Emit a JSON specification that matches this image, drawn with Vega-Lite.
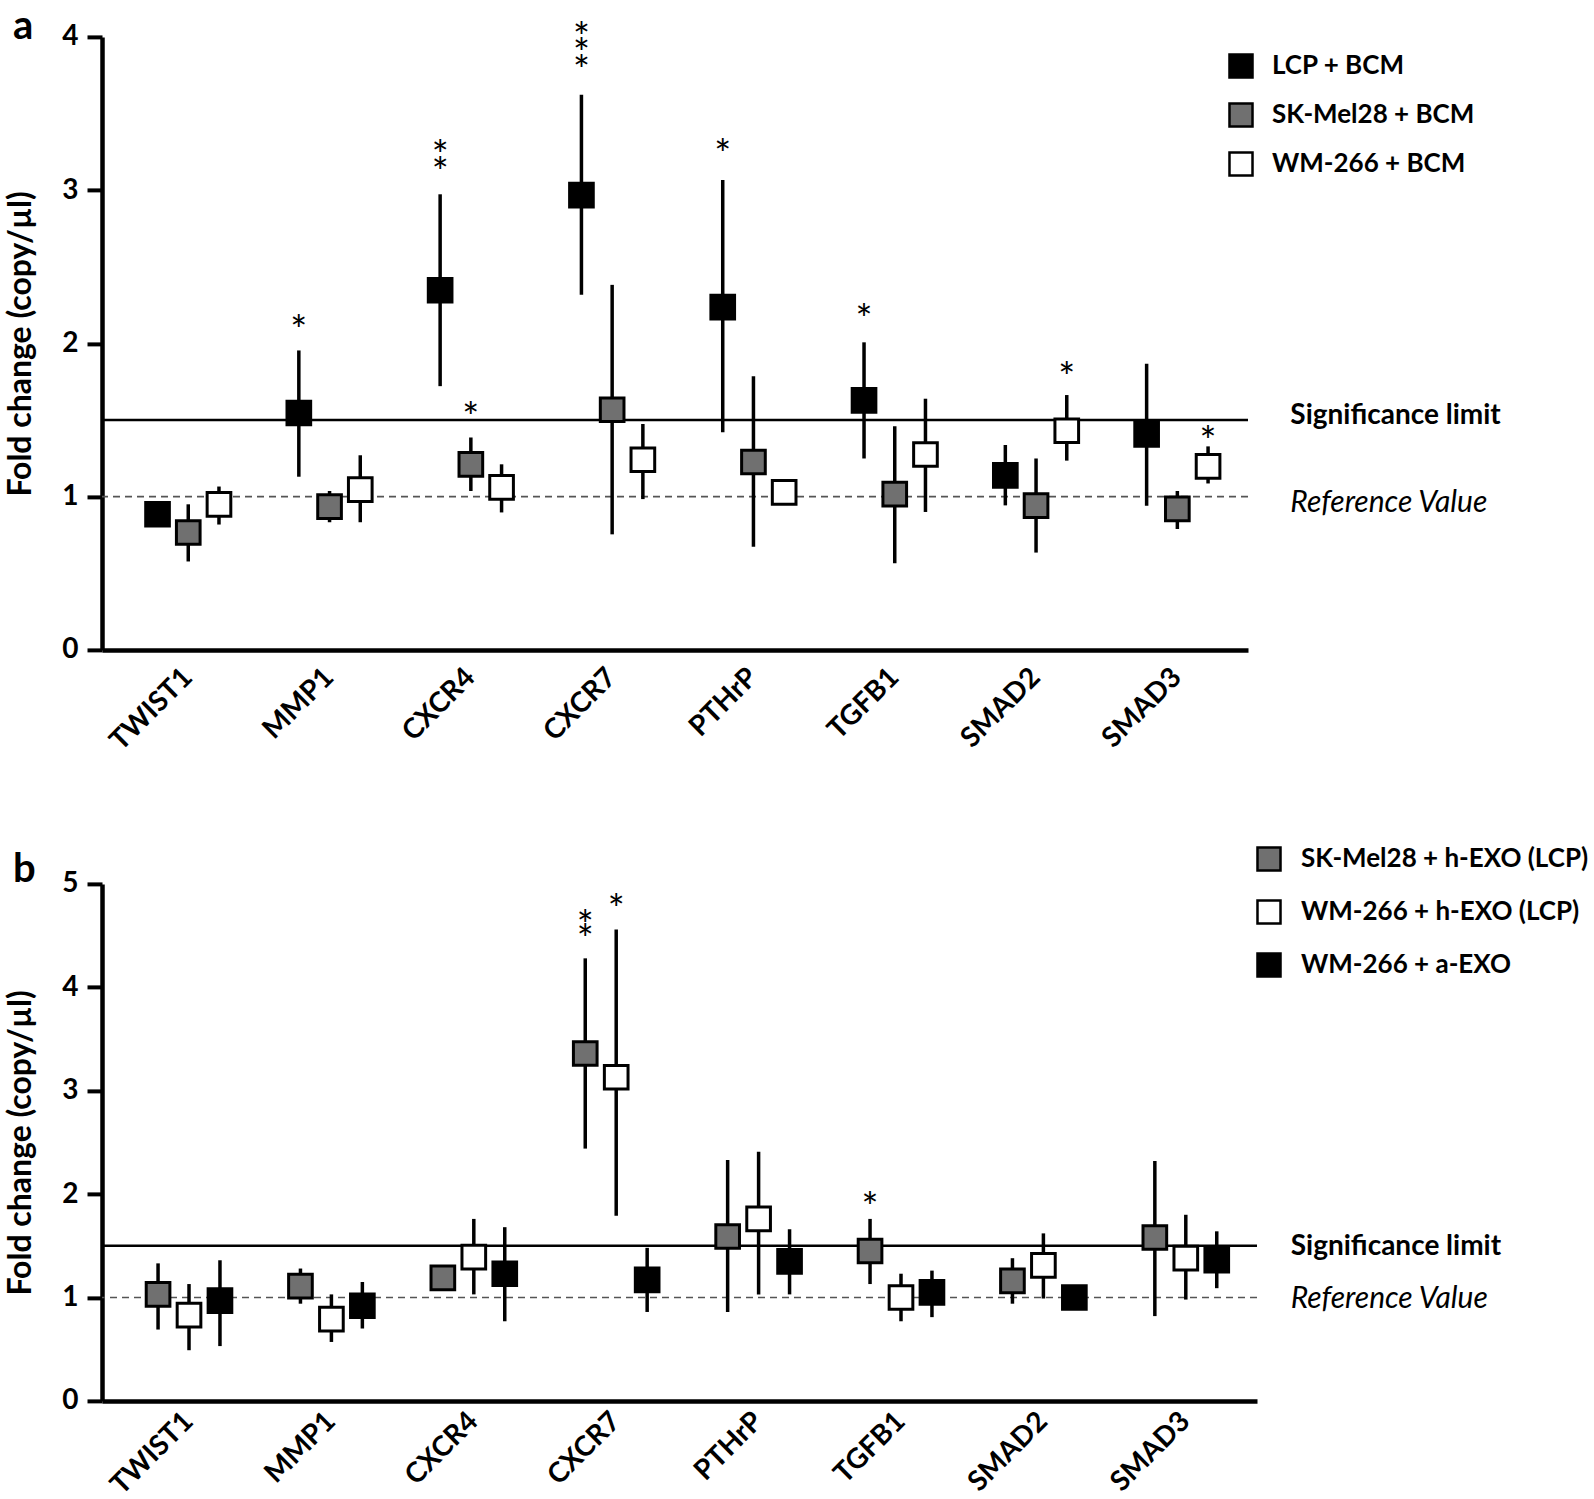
{
  "$schema": "https://vega.github.io/schema/vega-lite/v6.json",
  "background": "white",
  "padding": {"left": 4, "top": 6.9, "right": 5, "bottom": 0},
  "bounds": "flush",
  "spacing": 234,
  "config": {
    "font": "Lato",
    "view": {"stroke": null},
    "axis": {
      "domainColor": "black", "domainWidth": 4.5, "tickColor": "black", "tickWidth": 4,
      "labelColor": "black", "titleColor": "black", "grid": false,
      "labelFont": "Lato", "labelFontWeight": "bold", "labelFontSize": 28,
      "titleFont": "Lato", "titleFontSize": 32, "titleFontWeight": "bold"
    },
    "legend": {
      "title": null, "symbolType": "square", "symbolSize": 530, "symbolStrokeColor": "black",
      "symbolStrokeWidth": 2.5, "symbolOpacity": 1, "labelFontSize": 26, "labelFontWeight": "bold",
      "labelFont": "Lato", "labelColor": "black", "labelOffset": 18, "padding": 0, "labelLimit": 0
    },
    "title": {"font": "Lato", "fontSize": 40, "fontWeight": "bold", "color": "black"}
  },
  "datasets": {
    "a": [
      {"gene": "TWIST1", "g": "LCP + BCM", "v": 0.885, "lo": 0.885, "hi": 0.885},
      {"gene": "TWIST1", "g": "SK-Mel28 + BCM", "v": 0.766, "lo": 0.577, "hi": 0.95},
      {"gene": "TWIST1", "g": "WM-266 + BCM", "v": 0.95, "lo": 0.818, "hi": 1.066},
      {"gene": "MMP1", "g": "LCP + BCM", "v": 1.546, "lo": 1.13, "hi": 1.954},
      {"gene": "MMP1", "g": "SK-Mel28 + BCM", "v": 0.935, "lo": 0.833, "hi": 1.037},
      {"gene": "MMP1", "g": "WM-266 + BCM", "v": 1.046, "lo": 0.833, "hi": 1.27},
      {"gene": "CXCR4", "g": "LCP + BCM", "v": 2.347, "lo": 1.721, "hi": 2.973},
      {"gene": "CXCR4", "g": "SK-Mel28 + BCM", "v": 1.211, "lo": 1.037, "hi": 1.386},
      {"gene": "CXCR4", "g": "WM-266 + BCM", "v": 1.06, "lo": 0.897, "hi": 1.211},
      {"gene": "CXCR7", "g": "LCP + BCM", "v": 2.967, "lo": 2.318, "hi": 3.623},
      {"gene": "CXCR7", "g": "SK-Mel28 + BCM", "v": 1.567, "lo": 0.754, "hi": 2.382},
      {"gene": "CXCR7", "g": "WM-266 + BCM", "v": 1.241, "lo": 0.984, "hi": 1.474},
      {"gene": "PTHrP", "g": "LCP + BCM", "v": 2.237, "lo": 1.421, "hi": 3.066},
      {"gene": "PTHrP", "g": "SK-Mel28 + BCM", "v": 1.226, "lo": 0.673, "hi": 1.785},
      {"gene": "PTHrP", "g": "WM-266 + BCM", "v": 1.028, "lo": 1.028, "hi": 1.028},
      {"gene": "TGFB1", "g": "LCP + BCM", "v": 1.628, "lo": 1.249, "hi": 2.007},
      {"gene": "TGFB1", "g": "SK-Mel28 + BCM", "v": 1.016, "lo": 0.565, "hi": 1.459},
      {"gene": "TGFB1", "g": "WM-266 + BCM", "v": 1.275, "lo": 0.9, "hi": 1.639},
      {"gene": "SMAD2", "g": "LCP + BCM", "v": 1.139, "lo": 0.943, "hi": 1.337},
      {"gene": "SMAD2", "g": "SK-Mel28 + BCM", "v": 0.941, "lo": 0.635, "hi": 1.249},
      {"gene": "SMAD2", "g": "WM-266 + BCM", "v": 1.43, "lo": 1.235, "hi": 1.663},
      {"gene": "SMAD3", "g": "LCP + BCM", "v": 1.406, "lo": 0.941, "hi": 1.867},
      {"gene": "SMAD3", "g": "SK-Mel28 + BCM", "v": 0.92, "lo": 0.789, "hi": 1.037},
      {"gene": "SMAD3", "g": "WM-266 + BCM", "v": 1.197, "lo": 1.086, "hi": 1.328}
    ],
    "astar": [
      {"gene": "MMP1", "g": "LCP + BCM", "y": 2.138},
      {"gene": "CXCR4", "g": "LCP + BCM", "y": 3.279},
      {"gene": "CXCR4", "g": "LCP + BCM", "y": 3.168},
      {"gene": "CXCR4", "g": "SK-Mel28 + BCM", "y": 1.575},
      {"gene": "CXCR7", "g": "LCP + BCM", "y": 4.05},
      {"gene": "CXCR7", "g": "LCP + BCM", "y": 3.949},
      {"gene": "CXCR7", "g": "LCP + BCM", "y": 3.838},
      {"gene": "PTHrP", "g": "LCP + BCM", "y": 3.288},
      {"gene": "TGFB1", "g": "LCP + BCM", "y": 2.21},
      {"gene": "SMAD2", "g": "WM-266 + BCM", "y": 1.832},
      {"gene": "SMAD3", "g": "WM-266 + BCM", "y": 1.415}
    ],
    "b": [
      {"gene": "TWIST1", "g": "SK-Mel28 + h-EXO (LCP)", "v": 1.03, "lo": 0.69, "hi": 1.33},
      {"gene": "TWIST1", "g": "WM-266 + h-EXO (LCP)", "v": 0.83, "lo": 0.49, "hi": 1.13},
      {"gene": "TWIST1", "g": "WM-266 + a-EXO", "v": 0.97, "lo": 0.53, "hi": 1.36},
      {"gene": "MMP1", "g": "SK-Mel28 + h-EXO (LCP)", "v": 1.11, "lo": 0.94, "hi": 1.28},
      {"gene": "MMP1", "g": "WM-266 + h-EXO (LCP)", "v": 0.79, "lo": 0.57, "hi": 1.03},
      {"gene": "MMP1", "g": "WM-266 + a-EXO", "v": 0.92, "lo": 0.7, "hi": 1.15},
      {"gene": "CXCR4", "g": "SK-Mel28 + h-EXO (LCP)", "v": 1.19, "lo": 1.19, "hi": 1.19},
      {"gene": "CXCR4", "g": "WM-266 + h-EXO (LCP)", "v": 1.39, "lo": 1.03, "hi": 1.76},
      {"gene": "CXCR4", "g": "WM-266 + a-EXO", "v": 1.23, "lo": 0.77, "hi": 1.68},
      {"gene": "CXCR7", "g": "SK-Mel28 + h-EXO (LCP)", "v": 3.36, "lo": 2.44, "hi": 4.28},
      {"gene": "CXCR7", "g": "WM-266 + h-EXO (LCP)", "v": 3.13, "lo": 1.79, "hi": 4.56},
      {"gene": "CXCR7", "g": "WM-266 + a-EXO", "v": 1.17, "lo": 0.86, "hi": 1.48},
      {"gene": "PTHrP", "g": "SK-Mel28 + h-EXO (LCP)", "v": 1.59, "lo": 0.86, "hi": 2.33},
      {"gene": "PTHrP", "g": "WM-266 + h-EXO (LCP)", "v": 1.76, "lo": 1.03, "hi": 2.41},
      {"gene": "PTHrP", "g": "WM-266 + a-EXO", "v": 1.35, "lo": 1.03, "hi": 1.66},
      {"gene": "TGFB1", "g": "SK-Mel28 + h-EXO (LCP)", "v": 1.45, "lo": 1.13, "hi": 1.76},
      {"gene": "TGFB1", "g": "WM-266 + h-EXO (LCP)", "v": 1.0, "lo": 0.77, "hi": 1.23},
      {"gene": "TGFB1", "g": "WM-266 + a-EXO", "v": 1.05, "lo": 0.81, "hi": 1.26},
      {"gene": "SMAD2", "g": "SK-Mel28 + h-EXO (LCP)", "v": 1.16, "lo": 0.94, "hi": 1.38},
      {"gene": "SMAD2", "g": "WM-266 + h-EXO (LCP)", "v": 1.31, "lo": 0.99, "hi": 1.62},
      {"gene": "SMAD2", "g": "WM-266 + a-EXO", "v": 1.0, "lo": 1.0, "hi": 1.0},
      {"gene": "SMAD3", "g": "SK-Mel28 + h-EXO (LCP)", "v": 1.58, "lo": 0.82, "hi": 2.32},
      {"gene": "SMAD3", "g": "WM-266 + h-EXO (LCP)", "v": 1.38, "lo": 0.98, "hi": 1.8},
      {"gene": "SMAD3", "g": "WM-266 + a-EXO", "v": 1.36, "lo": 1.09, "hi": 1.64}
    ],
    "bstar": [
      {"gene": "CXCR7", "g": "SK-Mel28 + h-EXO (LCP)", "y": 4.68},
      {"gene": "CXCR7", "g": "SK-Mel28 + h-EXO (LCP)", "y": 4.54},
      {"gene": "CXCR7", "g": "WM-266 + h-EXO (LCP)", "y": 4.83},
      {"gene": "TGFB1", "g": "SK-Mel28 + h-EXO (LCP)", "y": 1.95}
    ]
  },
  "vconcat": [
    {
      "title": {"text": "a", "anchor": "start", "frame": "group", "offset": -27.2, "dx": -89},
      "width": 1146,
      "height": 613,
      "layer": [
        {
          "data": {"values": [{}]},
          "mark": {"type": "rule", "color": "black", "strokeWidth": 2.5},
          "encoding": {"y": {"datum": 1.5, "type": "quantitative", "scale": {"domain": [0, 4], "nice": false}}}
        },
        {
          "data": {"values": [{}]},
          "mark": {"type": "rule", "color": "#555555", "strokeWidth": 1.6, "strokeDash": [7, 5]},
          "encoding": {"y": {"datum": 1, "type": "quantitative"}}
        },
        {
          "data": {"name": "a"},
          "mark": {"type": "rule", "color": "black", "strokeWidth": 3.5},
          "encoding": {
            "x": {"field": "gene", "type": "nominal", "scale": {"domain": ["TWIST1", "MMP1", "CXCR4", "CXCR7", "PTHrP", "TGFB1", "SMAD2", "SMAD3"], "paddingInner": 0, "paddingOuter": 0.0552, "align": 1},
              "axis": {"title": null, "labelAngle": -45, "labelAlign": "right", "labelBaseline": "middle", "ticks": false, "labelPadding": 23, "labelOverlap": false}},
            "xOffset": {"field": "g", "type": "nominal", "scale": {"domain": ["LCP + BCM", "SK-Mel28 + BCM", "WM-266 + BCM"], "paddingInner": 0, "paddingOuter": 0.8}},
            "y": {"field": "lo", "type": "quantitative", "scale": {"domain": [0, 4], "nice": false},
              "axis": {"values": [0, 1, 2, 3, 4], "title": "Fold change (copy/µl)", "tickSize": 15, "labelPadding": 9, "titlePadding": 24, "format": "d"}},
            "y2": {"field": "hi"}
          }
        },
        {
          "data": {"name": "a"},
          "mark": {"type": "point", "shape": "square", "filled": true, "size": 560, "stroke": "black", "strokeWidth": 3, "opacity": 1, "fillOpacity": 1},
          "encoding": {
            "x": {"field": "gene", "type": "nominal"},
            "xOffset": {"field": "g", "type": "nominal"},
            "y": {"field": "v", "type": "quantitative"},
            "fill": {"field": "g", "type": "nominal",
              "scale": {"domain": ["LCP + BCM", "SK-Mel28 + BCM", "WM-266 + BCM"], "range": ["black", "#707070", "white"]},
              "legend": {"orient": "none", "legendX": 1126, "legendY": 16, "rowPadding": 15}}
          }
        },
        {
          "data": {"name": "astar"},
          "mark": {"type": "text", "fontSize": 40, "fontWeight": "normal", "baseline": "alphabetic", "dy": 23, "color": "black"},
          "encoding": {
            "x": {"field": "gene", "type": "nominal"},
            "xOffset": {"field": "g", "type": "nominal"},
            "y": {"field": "y", "type": "quantitative"},
            "text": {"value": "*"}
          }
        },
        {
          "data": {"values": [{"t": "Significance limit"}]},
          "mark": {"type": "text", "fontSize": 28, "fontWeight": "bold", "align": "left", "baseline": "middle", "dx": 113, "dy": -4, "color": "black"},
          "encoding": {"x": {"datum": "SMAD3", "type": "nominal"}, "y": {"datum": 1.5, "type": "quantitative"}, "text": {"field": "t"}}
        },
        {
          "data": {"values": [{"t": "Reference Value"}]},
          "mark": {"type": "text", "fontSize": 30, "fontStyle": "italic", "align": "left", "baseline": "middle", "dx": 113, "dy": 6, "color": "black"},
          "encoding": {"x": {"datum": "SMAD3", "type": "nominal"}, "y": {"datum": 1, "type": "quantitative"}, "text": {"field": "t"}}
        }
      ]
    },
    {
      "title": {"text": "b", "anchor": "start", "frame": "group", "offset": -44.2, "dx": -89},
      "width": 1155,
      "height": 517,
      "layer": [
        {
          "data": {"values": [{}]},
          "mark": {"type": "rule", "color": "black", "strokeWidth": 2.5},
          "encoding": {"y": {"datum": 1.5, "type": "quantitative", "scale": {"domain": [0, 5], "nice": false}}}
        },
        {
          "data": {"values": [{}]},
          "mark": {"type": "rule", "color": "#555555", "strokeWidth": 1.6, "strokeDash": [7, 5]},
          "encoding": {"y": {"datum": 1, "type": "quantitative"}}
        },
        {
          "data": {"name": "b"},
          "mark": {"type": "rule", "color": "black", "strokeWidth": 3.5},
          "encoding": {
            "x": {"field": "gene", "type": "nominal", "scale": {"domain": ["TWIST1", "MMP1", "CXCR4", "CXCR7", "PTHrP", "TGFB1", "SMAD2", "SMAD3"], "paddingInner": 0, "paddingOuter": 0.0555, "align": 1},
              "axis": {"title": null, "labelAngle": -45, "labelAlign": "right", "labelBaseline": "middle", "ticks": false, "labelPadding": 16, "labelOverlap": false}},
            "xOffset": {"field": "g", "type": "nominal", "scale": {"domain": ["SK-Mel28 + h-EXO (LCP)", "WM-266 + h-EXO (LCP)", "WM-266 + a-EXO"], "paddingInner": 0, "paddingOuter": 0.8}},
            "y": {"field": "lo", "type": "quantitative", "scale": {"domain": [0, 5], "nice": false},
              "axis": {"values": [0, 1, 2, 3, 4, 5], "title": "Fold change (copy/µl)", "tickSize": 15, "labelPadding": 9, "titlePadding": 24, "format": "d"}},
            "y2": {"field": "hi"}
          }
        },
        {
          "data": {"name": "b"},
          "mark": {"type": "point", "shape": "square", "filled": true, "size": 560, "stroke": "black", "strokeWidth": 3, "opacity": 1, "fillOpacity": 1},
          "encoding": {
            "x": {"field": "gene", "type": "nominal"},
            "xOffset": {"field": "g", "type": "nominal"},
            "y": {"field": "v", "type": "quantitative"},
            "fill": {"field": "g", "type": "nominal",
              "scale": {"domain": ["SK-Mel28 + h-EXO (LCP)", "WM-266 + h-EXO (LCP)", "WM-266 + a-EXO"], "range": ["#707070", "white", "black"]},
              "legend": {"orient": "none", "legendX": 1154, "legendY": -38, "rowPadding": 19, "labelOffset": 19}}
          }
        },
        {
          "data": {"name": "bstar"},
          "mark": {"type": "text", "fontSize": 40, "fontWeight": "normal", "baseline": "alphabetic", "dy": 23, "color": "black"},
          "encoding": {
            "x": {"field": "gene", "type": "nominal"},
            "xOffset": {"field": "g", "type": "nominal"},
            "y": {"field": "y", "type": "quantitative"},
            "text": {"value": "*"}
          }
        },
        {
          "data": {"values": [{"t": "Significance limit"}]},
          "mark": {"type": "text", "fontSize": 28, "fontWeight": "bold", "align": "left", "baseline": "middle", "dx": 105, "dy": 1, "color": "black"},
          "encoding": {"x": {"datum": "SMAD3", "type": "nominal"}, "y": {"datum": 1.5, "type": "quantitative"}, "text": {"field": "t"}}
        },
        {
          "data": {"values": [{"t": "Reference Value"}]},
          "mark": {"type": "text", "fontSize": 30, "fontStyle": "italic", "align": "left", "baseline": "middle", "dx": 105, "dy": 2, "color": "black"},
          "encoding": {"x": {"datum": "SMAD3", "type": "nominal"}, "y": {"datum": 1, "type": "quantitative"}, "text": {"field": "t"}}
        }
      ]
    }
  ],
  "resolve": {
    "scale": {"x": "independent", "y": "independent", "fill": "independent", "xOffset": "independent"},
    "legend": {"fill": "independent"}
  }
}
